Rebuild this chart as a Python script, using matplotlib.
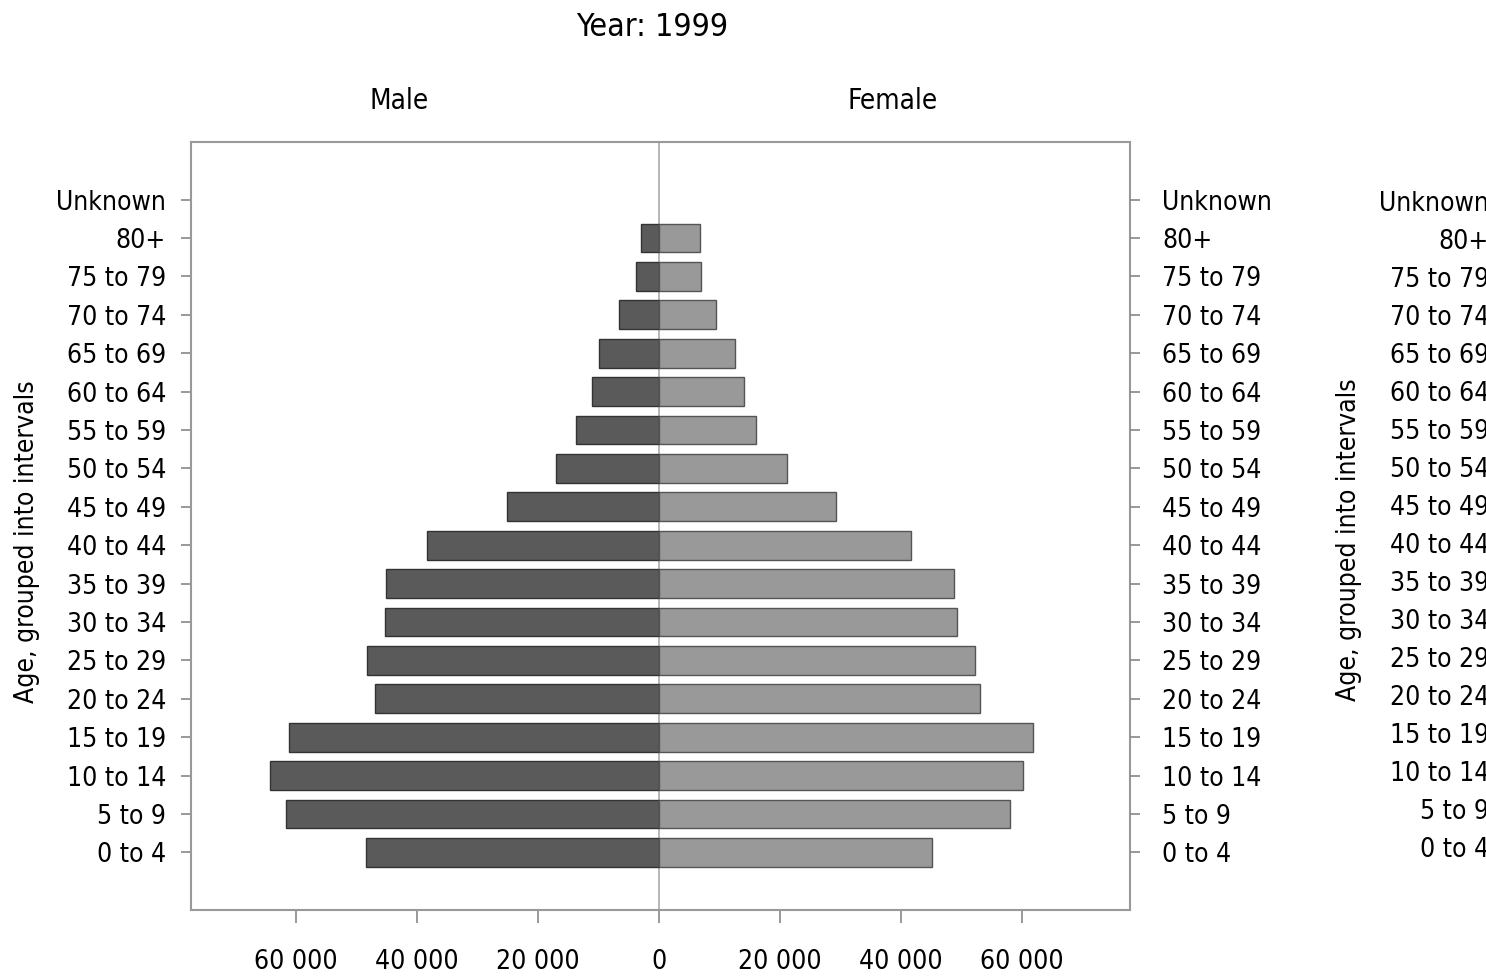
import matplotlib
matplotlib.use("Agg")
import matplotlib.pyplot as plt
from matplotlib.ticker import FuncFormatter

age_groups = ["0 to 4", "5 to 9", "10 to 14", "15 to 19", "20 to 24", "25 to 29",
              "30 to 34", "35 to 39", "40 to 44", "45 to 49", "50 to 54", "55 to 59",
              "60 to 64", "65 to 69", "70 to 74", "75 to 79", "80+", "Unknown"]
male = [48400, 61700, 64300, 61200, 46900, 48300, 45300, 45100, 38300, 25100,
        17000, 13700, 11100, 9900, 6600, 3800, 3000, 0]
female = [45100, 58000, 60200, 61800, 53100, 52200, 49300, 48800, 41700, 29300,
          21200, 16000, 14000, 12600, 9400, 6900, 6800, 0]
x_ticks = [-60000, -40000, -20000, 0, 20000, 40000, 60000]
title = "Year: 1999"

plt.rcParams['font.family'] = ['DejaVu Sans']
plt.rcParams['font.stretch'] = 'condensed'
FS = 19

W, H = 1486, 980
fig = plt.figure(figsize=(W / 100, H / 100), dpi=100)
L, R, T, B = 191, 1130, 142, 910
ax = fig.add_axes([L / W, 1 - B / H, (R - L) / W, (B - T) / H])

y = list(range(len(age_groups)))
m_edge = ["#333333" if v else "none" for v in male]
f_edge = ["#555555" if v else "none" for v in female]
ax.barh(y, [-m for m in male], height=0.75, color="#5a5a5a", edgecolor=m_edge, linewidth=1)
ax.barh(y, female, height=0.75, color="#999999", edgecolor=f_edge, linewidth=1)
ax.axvline(0, color="#aaaaaa", linewidth=1.2, zorder=0)

ax.set_xlim(-77400, 77850)
ax.set_ylim(-1.5, len(age_groups) + 0.5)
ax.set_xticks(x_ticks)
ax.xaxis.set_major_formatter(FuncFormatter(lambda v, p: f"{abs(int(v)):,}".replace(",", " ")))
ax.set_yticks(y)
ax.set_yticklabels(age_groups)
ax.tick_params(axis="y", direction="out", length=7, width=1.2, color="#888888",
               labelsize=FS, pad=11)
ax.tick_params(axis="x", direction="out", length=9, width=1.2, color="#888888",
               labelsize=FS, pad=19)
for s in ax.spines.values():
    s.set_color("#999999")
    s.set_linewidth(1.5)
ax.set_ylabel("Age, grouped into intervals", fontsize=FS)
ax.yaxis.set_label_coords(-0.161, 0.48)

axr = ax.twinx()
axr.set_ylim(ax.get_ylim())
axr.set_yticks(y)
axr.set_yticklabels(age_groups)
axr.tick_params(axis="y", direction="out", length=7, width=1.2, color="#888888",
                labelsize=FS, pad=16)
for s in axr.spines.values():
    s.set_visible(False)

# duplicate (clipped) label column at the far right
ax2 = fig.add_axes([(L + 1323) / W, 1 - (B - 6) / H, (R - L) / W, (B - T - 8) / H])
ax2.set_ylim(-1.5, len(age_groups) + 0.5)
ax2.set_yticks(y)
ax2.set_yticklabels(age_groups)
ax2.set_xticks([])
ax2.tick_params(axis="y", length=7, labelsize=FS, pad=11, color="#888888")
for s in ax2.spines.values():
    s.set_visible(False)
ax2.patch.set_visible(False)
ax2.set_ylabel("Age, grouped into intervals", fontsize=FS)
ax2.yaxis.set_label_coords(-0.162, 0.48)

fig.text(652 / W, 1 - 27 / H, title, ha="center", va="center", fontsize=FS + 4)
fig.text(399 / W, 1 - 101 / H, "Male", ha="center", va="center", fontsize=FS + 1)
fig.text(893 / W, 1 - 101 / H, "Female", ha="center", va="center", fontsize=FS + 1)

fig.savefig("out.png", dpi=100, facecolor="white")
